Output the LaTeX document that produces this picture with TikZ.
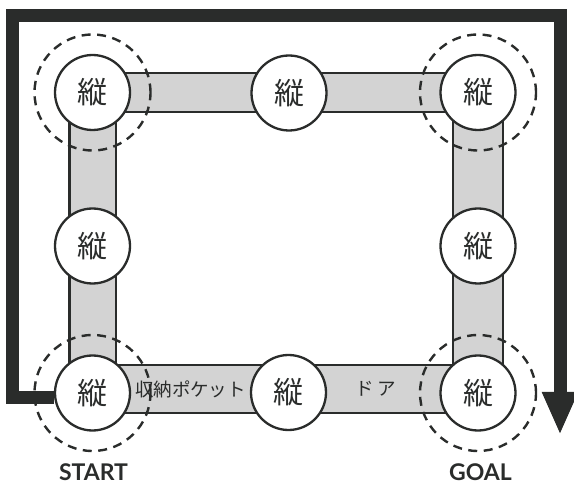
\documentclass[tikz,border=0pt]{standalone}
\usepackage{fontspec}
\setmainfont{Lato}
\newfontfamily\cjk{Noto Sans CJK JP}
\usetikzlibrary{arrows.meta}
\definecolor{ink}{HTML}{2A2C2B}
\definecolor{band}{HTML}{D3D3D3}
\begin{document}
\begin{tikzpicture}[x=1pt,y=-1pt,
  hub/.style={circle,draw=ink,line width=2.3pt,fill=white,minimum size=75pt,inner sep=0pt,
    font=\cjk\fontsize{30}{30}\selectfont,text=ink},
  ring/.style={circle,draw=ink,line width=2.4pt,dash pattern=on 9pt off 6.5pt,minimum size=116pt,inner sep=0pt},
  bandline/.style={draw=ink,line width=2.2pt,double=band,double distance=#1},
  lab/.style={font=\cjk\fontsize{18.5}{18.5}\selectfont,text=ink,inner sep=0pt},
  endlab/.style={font=\fontsize{23}{23}\selectfont\bfseries,text=ink,inner sep=0pt},
  route/.style={draw=ink,line width=13pt,line join=miter}]
\useasboundingbox (0,0) rectangle (574,484);
% node positions
\coordinate (pTL) at (92.5,92.5);
\coordinate (pTM) at (289,93);
\coordinate (pTR) at (478,92.5);
\coordinate (pML) at (92.5,246);
\coordinate (pMR) at (478,246);
\coordinate (pBL) at (92.5,393);
\coordinate (pBM) at (288.5,392.5);
\coordinate (pBR) at (478,393);
% bands
\path[bandline=36.5pt] (pTL) -- (pTR);
\path[bandline=44pt] (pTL) -- (pBL);
\path[bandline=48pt] (pTR) -- (pBR);
\path[bandline=45pt] (92.5,389) -- node[lab] (lpocket) {収納ポケット} (288.5,389) -- node[lab,pos=0.46] (ldoor) {ド\kern3ptア} (478,389);
% dashed rings
\node[ring] (rTL) at (pTL) {};
\node[ring] (rTR) at (pTR) {};
\node[ring] (rBL) at (pBL) {};
\node[ring] (rBR) at (pBR) {};
% hubs
\node[hub] (TL) at (pTL) {縦};
\node[hub] (TM) at (pTM) {縦};
\node[hub] (TR) at (pTR) {縦};
\node[hub] (ML) at (pML) {縦};
\node[hub] (MR) at (pMR) {縦};
\node[hub] (BL) at (pBL) {縦};
\node[hub] (BM) at (pBM) {縦};
\node[hub] (BR) at (pBR) {縦};
% route
\coordinate (goalend) at (560,435);
\draw[route,-{Triangle[width=33pt,length=43pt]}] (BL.west |- 0,397.5) -- (12.5,397.5) -- (12.5,15.5) -- (560,15.5) -- (goalend);
% start / goal
\node[endlab,anchor=base] (start) at (93.5,480) {START};
\node[endlab,anchor=base] (goal) at (480.5,480) {GOAL};
\end{tikzpicture}
\end{document}
